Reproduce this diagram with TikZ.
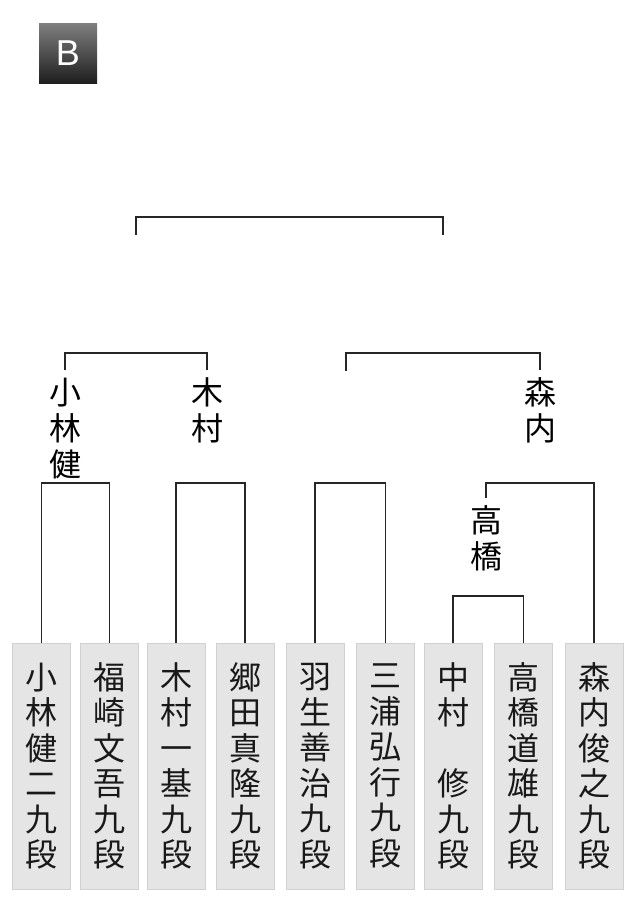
\documentclass[tikz,border=0pt]{standalone}
\usepackage{fontspec}
\setsansfont{Liberation Sans}
\newfontfamily\jpfont{Noto Sans CJK JP}

\begin{document}
\begin{tikzpicture}[x=1pt, y=-1pt,
    namebox/.style={draw=black!18, fill=black!10, line width=1pt,
      minimum width=58pt, minimum height=246pt, inner sep=0pt,
      align=center, text=black!90,
      font=\jpfont\fontsize{32}{35.5}\selectfont},
    winlabel/.style={inner sep=0pt, outer ysep=8pt, anchor=north,
      align=center, font=\jpfont\fontsize{32}{36}\selectfont},
    bracket/.style={black!85, line width=1.8pt}]

\useasboundingbox (0,0) rectangle (639,922);

%% ---- Badge ----
\node[top color=black!50, bottom color=black!88, minimum width=58pt,
      minimum height=60pt, text=white,
      font=\sffamily\fontsize{36}{36}\selectfont] (badge) at (68,53) {B};

%% ---- Giocatori ----
\foreach \x/\id/\txt in {41.5/p1/{小\\林\\健\\二\\九\\段},
                         109.5/p2/{福\\崎\\文\\吾\\九\\段},
                         176/p3/{木\\村\\一\\基\\九\\段},
                         245/p4/{郷\\田\\真\\隆\\九\\段},
                         315/p5/{羽\\生\\善\\治\\九\\段},
                         385.5/p6/{三\\浦\\弘\\行\\九\\段},
                         453/p7/{中\\村\\　\\修\\九\\段},
                         523.5/p8/{高\\橋\\道\\雄\\九\\段},
                         594/p9/{森\\内\\俊\\之\\九\\段}}
  \node[namebox] (\id) at (\x,766) {\txt};

%% ---- Livelli ----
\coordinate (lvA) at (0,483);
\coordinate (lvD) at (0,596);
\coordinate (lvF) at (0,353);
\coordinate (lvH) at (0,217);

%% ---- Vincitori ----
\node[winlabel] (wKob) at (65,370)  {小\\林\\健};
\node[winlabel] (wKim) at (207,370) {木\\村};
\node[winlabel] (wMor) at (540,370) {森\\内};
\node[winlabel] (wTak) at (486,498) {高\\橋};
\coordinate (cHabu) at (346,371);
\coordinate (cLeft) at (136,235);
\coordinate (cRight) at (443,235);

%% ---- Tabellone ----
\draw[bracket] (p1.north) -- (p1.north |- lvA) -| (p2.north);
\draw[bracket] (p3.north) -- (p3.north |- lvA) -| (p4.north);
\draw[bracket] (p5.north) -- (p5.north |- lvA) -| (p6.north);
\draw[bracket] (p7.north) -- (p7.north |- lvD) -| (p8.north);
\draw[bracket] (wTak.north) -- (wTak.north |- lvA) -| (p9.north);
\draw[bracket] (wKob.north) -- (wKob.north |- lvF) -| (wKim.north);
\draw[bracket] (cHabu) -- (cHabu |- lvF) -| (wMor.north);
\draw[bracket] (cLeft) -- (cLeft |- lvH) -| (cRight);

\end{tikzpicture}
\end{document}
